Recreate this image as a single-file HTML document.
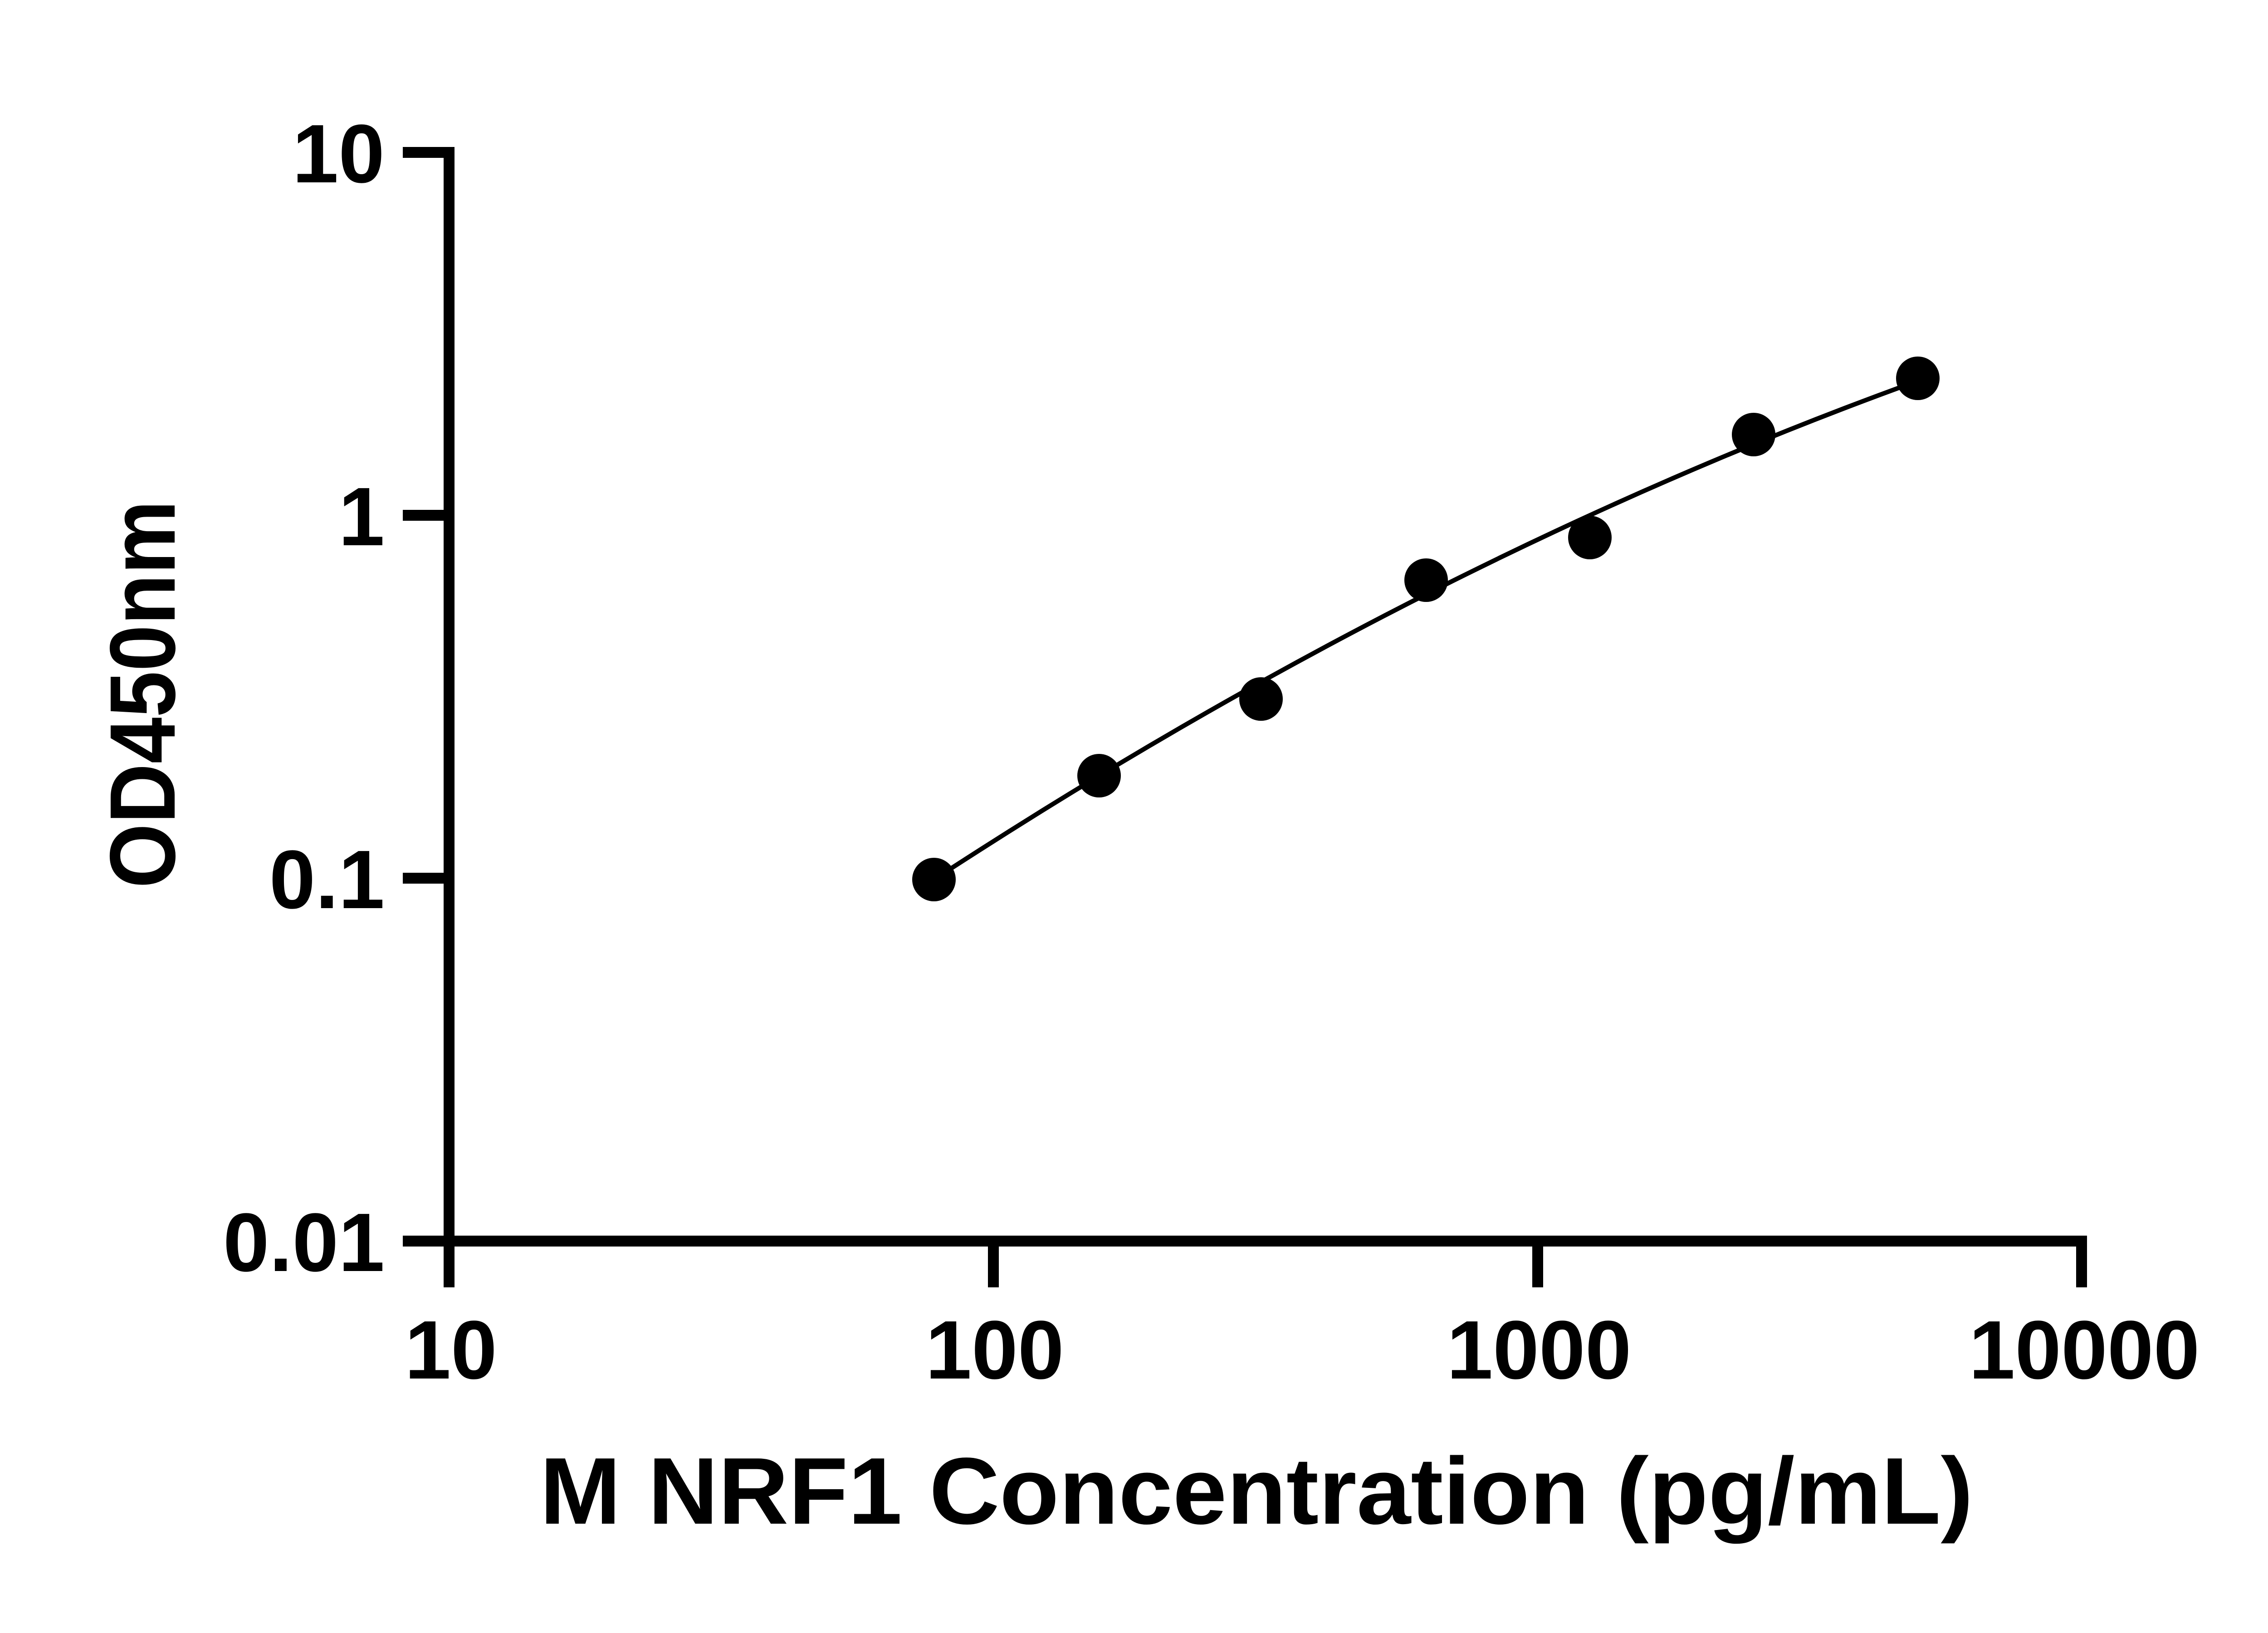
<!DOCTYPE html>
<html><head><meta charset="utf-8"><style>html,body{margin:0;padding:0;background:#fff}svg{display:block}</style></head>
<body>
<svg width="5142" height="3600" viewBox="0 0 5142 3600" xmlns="http://www.w3.org/2000/svg">
<rect width="5142" height="3600" fill="#fff"/>
<g stroke="#000" stroke-width="24" fill="none">
<line x1="990" y1="324" x2="990" y2="2838"/>
<line x1="978" y1="2736" x2="4600" y2="2736"/>
<line x1="888" y1="336" x2="990" y2="336"/>
<line x1="888" y1="1136" x2="990" y2="1136"/>
<line x1="888" y1="1936" x2="990" y2="1936"/>
<line x1="888" y1="2736" x2="990" y2="2736"/>
<line x1="2190" y1="2736" x2="2190" y2="2838"/>
<line x1="3390" y1="2736" x2="3390" y2="2838"/>
<line x1="4589" y1="2724" x2="4589" y2="2838"/>
</g>
<g font-family="Liberation Sans, Arial, sans-serif" font-weight="bold" font-size="183" fill="#000">
<text x="848" y="402" text-anchor="end">10</text>
<text x="848" y="1202" text-anchor="end">1</text>
<text x="848" y="2002" text-anchor="end">0.1</text>
<text x="848" y="2802" text-anchor="end">0.01</text>
<text x="994" y="3039" text-anchor="middle">10</text>
<text x="2193" y="3039" text-anchor="middle">100</text>
<text x="3393" y="3039" text-anchor="middle">1000</text>
<text x="4595" y="3039" text-anchor="middle">10000</text>
</g>
<text x="1190" y="3359" font-family="Liberation Sans, Arial, sans-serif" font-weight="bold" font-size="209" textLength="3160" lengthAdjust="spacingAndGlyphs">M NRF1 Concentration (pg/mL)</text>
<text transform="translate(385,1958) rotate(-90)" x="0" y="0" font-family="Liberation Sans, Arial, sans-serif" font-weight="bold" font-size="205" textLength="855" lengthAdjust="spacingAndGlyphs">OD450nm</text>
<path d="M2059,1939 Q3144,1231 4230,839" stroke="#000" stroke-width="10" fill="none"/>
<g fill="#000">
<circle cx="2059" cy="1939" r="48"/>
<circle cx="2423" cy="1710" r="48"/>
<circle cx="2780" cy="1541" r="48"/>
<circle cx="3144" cy="1279" r="48"/>
<circle cx="3505" cy="1185" r="48"/>
<circle cx="3866" cy="958" r="48"/>
<circle cx="4228" cy="834" r="48"/>
</g>
</svg>
</body></html>
